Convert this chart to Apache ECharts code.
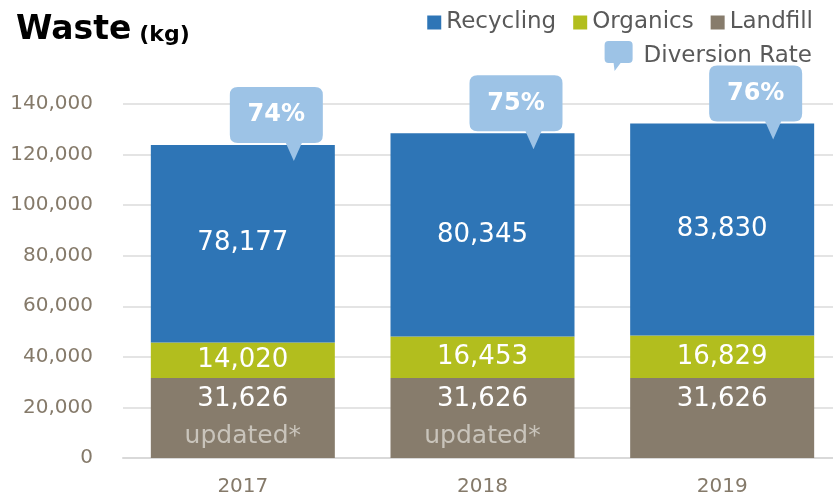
<!DOCTYPE html>
<html>
<head>
<meta charset="utf-8">
<script src="https://cdn.jsdelivr.net/npm/echarts@6/dist/echarts.min.js"></script>
<style>
  html, body { margin: 0; padding: 0; background: #fff; }
  #main { width: 833px; height: 500px; }
</style>
</head>
<body>
<div id="main"></div>
<script>
// data
var years = ['2017', '2018', '2019'];
var landfill = [31626, 31626, 31626];
var organics = [14020, 16453, 16829];
var recycling = [78177, 80345, 83830];
var diversionRate = [74, 75, 76];
var landfillNote = ['updated*', 'updated*', ''];

var totals = years.map(function (y, i) {
  return landfill[i] + organics[i] + recycling[i];
});

var font = 'DejaVu Sans';
var fmt = function (v) { return v.toLocaleString('en-US'); };

// speech bubble shapes
var bubblePath = 'path://M8,0 H85 Q93,0 93,8 V48 Q93,56 85,56 H72 L64,74 L56,56 H8 Q0,56 0,48 V8 Q0,0 8,0 Z';
var legendBubble = 'path://M4,0 H24 Q28,0 28,4 V18 Q28,22 24,22 H16 L10,30 L9,22 H4 Q0,22 0,18 V4 Q0,0 4,0 Z';

var chart = echarts.init(document.getElementById('main'));

var option = {
  animation: false,
  title: {
    text: '{a|Waste}{b|(kg)}',
    left: 11,
    top: 9,
    textStyle: {
      rich: {
        a: { fontFamily: font, fontWeight: 'bold', fontSize: 33, color: '#000', padding: [0, 8, 0, 0] },
        b: { fontFamily: font, fontWeight: 'bold', fontSize: 22, color: '#000', padding: [10, 0, 0, 0] }
      }
    }
  },
  legend: [
    {
      data: ['Recycling', 'Organics', 'Landfill'],
      right: 15,
      top: 6,
      icon: 'rect',
      itemWidth: 14,
      itemHeight: 14,
      itemGap: 17,
      textStyle: { fontFamily: font, fontSize: 23, color: '#595959' }
    },
    {
      data: [{ name: 'Diversion Rate', icon: legendBubble }],
      right: 16,
      top: 36,
      itemWidth: 28,
      itemHeight: 32,
      textStyle: { fontFamily: font, fontSize: 23, color: '#595959', padding: [-16, 0, 0, 6] }
    }
  ],
  grid: {
    left: 123,
    top: 104,
    bottom: 42,
    width: 719,
    outerBoundsMode: 'none'
  },
  xAxis: {
    type: 'category',
    data: years,
    axisTick: { show: false },
    axisLine: { lineStyle: { color: '#d9d9d9', width: 2 } },
    axisLabel: { fontFamily: font, fontSize: 20, color: '#857a6a', margin: 19 }
  },
  yAxis: {
    type: 'value',
    min: 0,
    max: 140000,
    interval: 20000,
    axisLine: { show: false },
    axisTick: { show: false },
    splitLine: { lineStyle: { color: '#e4e4e4', width: 2 } },
    axisLabel: {
      fontFamily: font, fontSize: 20, color: '#857a6a', margin: 30,
      formatter: function (v) { return fmt(v); }
    }
  },
  series: [
    {
      name: 'Landfill',
      type: 'bar',
      stack: 'total',
      barWidth: 184,
      data: landfill,
      itemStyle: { color: '#877c6c' },
      label: {
        show: true,
        position: 'insideTop',
        distance: 5,
        formatter: function (p) {
          var s = '{n|' + fmt(p.value) + '}';
          if (landfillNote[p.dataIndex]) s += '\n{u|' + landfillNote[p.dataIndex] + '}';
          return s;
        },
        rich: {
          n: { fontFamily: font, fontSize: 26, color: '#fff', lineHeight: 32 },
          u: { fontFamily: font, fontSize: 25, color: '#c9c4bb', lineHeight: 42 }
        }
      }
    },
    {
      name: 'Organics',
      type: 'bar',
      stack: 'total',
      data: organics,
      itemStyle: { color: '#b2be1e' },
      label: {
        show: true, position: 'inside',
        fontFamily: font, fontSize: 26, color: '#fff',
        formatter: function (p) { return fmt(p.value); }
      }
    },
    {
      name: 'Recycling',
      type: 'bar',
      stack: 'total',
      data: recycling,
      itemStyle: { color: '#2e75b6' },
      label: {
        show: true, position: 'inside',
        fontFamily: font, fontSize: 26, color: '#fff',
        formatter: function (p) { return fmt(p.value); }
      }
    },
    {
      name: 'Diversion Rate',
      type: 'scatter',
      z: 10,
      data: totals,
      symbol: bubblePath,
      symbolSize: [93, 74],
      symbolOffset: [33.5, -21],
      itemStyle: { color: '#9dc3e6', opacity: 1 },
      label: {
        show: true,
        position: 'inside',
        offset: [0, -9],
        fontFamily: font,
        fontWeight: 'bold',
        fontSize: 24,
        color: '#fff',
        formatter: function (p) { return diversionRate[p.dataIndex] + '%'; }
      }
    }
  ]
};

chart.setOption(option);
</script>
</body>
</html>
